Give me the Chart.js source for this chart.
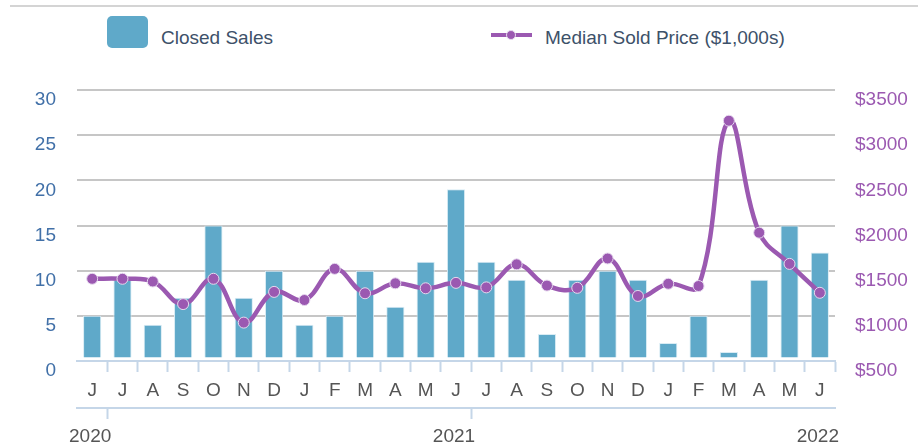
<!DOCTYPE html>
<html>
<head>
<meta charset="utf-8">
<title>Closed Sales / Median Sold Price</title>
<script src="https://cdn.jsdelivr.net/npm/chart.js@4.4.1/dist/chart.umd.min.js"></script>
<style>
    html, body { margin: 0; padding: 0; background: #fff; }
    #wrap { position: relative; width: 924px; height: 445px; font-family: "Liberation Sans", Arial, sans-serif; }
    #topline { position: absolute; left: 10px; top: 5px; width: 908px; height: 2px; background: #d4d4d4; }
    .legend-item { position: absolute; font-size: 19px; color: #3d5169; white-space: nowrap; }
    .legend-item .label { position: absolute; top: 0; line-height: 22px; }
    #legendSales { left: 107px; top: 16px; }
    #legendSales .swatch { position: absolute; left: 0; top: 0; width: 41px; height: 32px; border-radius: 5px; background: #5fa9c9; }
    #legendSales .label { left: 54px; top: 11px; }
    #legendPrice { left: 491px; top: 35px; }
    #legendPrice .swatch { position: absolute; left: 0; top: -2px; width: 41px; height: 4px; background: #9b59b1; }
    #legendPrice .dot { position: absolute; left: 15px; top: -5px; width: 10px; height: 10px; border-radius: 50%; background: #9b59b1; border: 1px solid #e6d9ee; box-sizing: border-box; }
    #legendPrice .label { left: 54px; top: -8px; }
    #chartBox { position: absolute; left: 0; top: 0; width: 924px; height: 445px; }
</style>
</head>
<body>
<div id="wrap">
    <div id="topline"></div>
    <div class="legend-item" id="legendSales"><span class="swatch"></span><span class="label">Closed Sales</span></div>
    <div class="legend-item" id="legendPrice"><span class="swatch"></span><span class="dot"></span><span class="label">Median Sold Price ($1,000s)</span></div>
    <div id="chartBox"><canvas id="salesChart"></canvas></div>
</div>
<script>
// Jun 2020 .. Jun 2022
var months = ['J', 'J', 'A', 'S', 'O', 'N', 'D', 'J', 'F', 'M', 'A', 'M',
    'J', 'J', 'A', 'S', 'O', 'N', 'D', 'J', 'F', 'M', 'A', 'M', 'J'];
var years = ['2020', '', '', '', '', '', '', '', '', '', '', '',
    '2021', '', '', '', '', '', '', '', '', '', '', '', '2022'];
var closedSales = [5, 9, 4, 7, 15, 7, 10, 4, 5, 10, 6, 11,
    19, 11, 9, 3, 9, 10, 9, 2, 5, 1, 9, 15, 12];
var medianPrice = [1410, 1410, 1380, 1130, 1410, 925, 1265, 1175, 1520, 1250, 1360, 1305,
    1365, 1315, 1570, 1335, 1310, 1635, 1220, 1355, 1330, 3160, 1920, 1575, 1255];
var salesTicks = [0, 5, 10, 15, 20, 25, 30];
var priceTicks = [500, 1000, 1500, 2000, 2500, 3000, 3500];
// tick marks on the year axis: after Jun 2020, after Jun 2021, end
var yearMarks = [1, 13, 25];

var BAR = '#5fa9c9';
var PURPLE = '#9b59b1';
var AXIS = '#c5d6e8';
var GRID = '#c6c6c6';
var FONT = { family: '"Liberation Sans", Arial, sans-serif', size: 19 };

var ctx = document.getElementById('salesChart').getContext('2d');
var salesChart = new Chart(ctx, {
    data: {
        labels: months,
        datasets: [{
            type: 'line',
            label: 'Median Sold Price ($1,000s)',
            data: medianPrice,
            yAxisID: 'y1',
            xAxisID: 'x',
            order: 0,
            borderColor: PURPLE,
            borderWidth: 4.5,
            tension: 0.4,
            fill: false,
            pointRadius: 5.5,
            pointBackgroundColor: PURPLE,
            pointBorderColor: '#e6d9ee',
            pointBorderWidth: 1
        }, {
            type: 'bar',
            label: 'Closed Sales',
            data: closedSales,
            yAxisID: 'y',
            xAxisID: 'x',
            order: 1,
            base: 0.4, // small gap above the axis line
            backgroundColor: BAR,
            borderColor: '#d9ecf4',
            borderWidth: 1,
            categoryPercentage: 1,
            barPercentage: 0.6
        }]
    },
    options: {
        responsive: true,
        maintainAspectRatio: false,
        animation: false,
        layout: { padding: { top: 90, left: 0, right: 0, bottom: 0 } },
        plugins: {
            legend: { display: false },
            tooltip: { enabled: false }
        },
        scales: {
            x: {
                type: 'category',
                position: 'bottom',
                weight: 0,
                offset: true,
                grid: {
                    offset: true,
                    drawOnChartArea: false,
                    drawTicks: true,
                    tickLength: 11,
                    tickWidth: 2,
                    tickColor: function (c) { return c.index === 0 ? 'transparent' : AXIS; }
                },
                border: { display: true, color: AXIS, width: 2 },
                ticks: { color: '#555555', font: FONT, padding: 7, autoSkip: false, maxRotation: 0 },
                afterFit: function (s) { s.height = 47; }
            },
            x2: {
                type: 'category',
                labels: years,
                position: 'bottom',
                weight: 1,
                offset: true,
                grid: {
                    offset: true,
                    drawOnChartArea: false,
                    drawTicks: true,
                    tickLength: 11,
                    tickWidth: 2,
                    tickColor: function (c) { return yearMarks.indexOf(c.index) > -1 ? AXIS : 'transparent'; }
                },
                border: { display: true, color: AXIS, width: 2 },
                ticks: { color: '#555555', font: FONT, padding: 6, autoSkip: false, maxRotation: 0, labelOffset: -2 },
                afterFit: function (s) { s.height = 37; }
            },
            y: {
                position: 'left',
                min: salesTicks[0],
                max: salesTicks[salesTicks.length - 1],
                afterBuildTicks: function (s) { s.ticks = salesTicks.map(function (v) { return { value: v }; }); },
                grid: {
                    drawTicks: false,
                    lineWidth: 2,
                    color: function (c) { return c.tick && c.tick.value === 0 ? 'transparent' : GRID; }
                },
                border: { display: false },
                ticks: { color: '#4170a8', font: FONT, padding: 21, labelOffset: 10 },
                afterFit: function (s) { s.width = 77; }
            },
            y1: {
                position: 'right',
                min: priceTicks[0],
                max: priceTicks[priceTicks.length - 1],
                afterBuildTicks: function (s) { s.ticks = priceTicks.map(function (v) { return { value: v }; }); },
                grid: { drawOnChartArea: false, drawTicks: false },
                border: { display: false },
                ticks: {
                    color: PURPLE,
                    font: FONT,
                    padding: 20,
                    labelOffset: 10,
                    callback: function (v) { return '$' + v; }
                },
                afterFit: function (s) { s.width = 89; }
            }
        }
    }
});
</script>
</body>
</html>
